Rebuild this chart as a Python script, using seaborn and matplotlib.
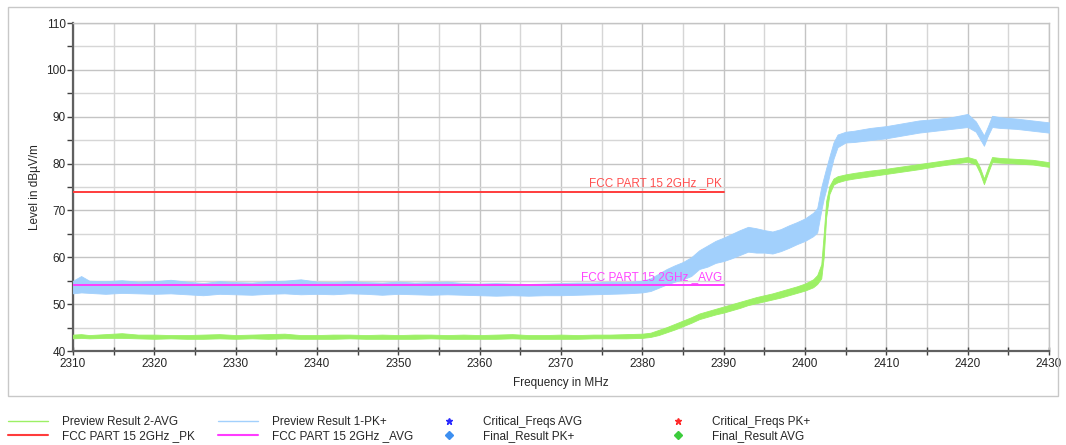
import pandas as pd
import seaborn as sns
import matplotlib.pyplot as plt
from matplotlib.lines import Line2D
from matplotlib.patches import Rectangle
from matplotlib.ticker import MultipleLocator

# frequency points (MHz) where the trace envelopes were read
freq = [2310, 2311, 2312, 2314, 2316, 2318, 2320, 2322, 2324, 2326, 2328, 2330,
        2332, 2334, 2336, 2338, 2340, 2342, 2344, 2346, 2348, 2350, 2352, 2354,
        2356, 2358, 2360, 2362, 2364, 2366, 2368, 2370, 2372, 2374, 2376, 2378,
        2380, 2381, 2382, 2383, 2384, 2385, 2386, 2387, 2388, 2389, 2390, 2391,
        2392, 2393, 2394, 2395, 2396, 2397, 2398, 2399, 2400, 2401, 2401.5, 2402,
        2402.3, 2402.6, 2403, 2403.5, 2404, 2405, 2406, 2408, 2410, 2412, 2414,
        2416, 2418, 2420, 2421, 2421.5, 2422, 2422.5, 2423, 2424, 2426, 2428, 2430]

# Preview Result 1-PK+ (lower / upper edge of the noisy trace), dBuV/m
pk_lo = [52.3, 52.5, 52.4, 52.2, 52.4, 52.3, 52.2, 52.3, 52.1, 51.9, 52.2, 52.1,
         52.0, 52.2, 52.3, 52.1, 52.2, 52.1, 52.3, 52.2, 52.0, 52.2, 52.1, 52.0,
         52.1, 52.0, 51.9, 51.8, 51.9, 51.8, 51.9, 51.9, 52.0, 52.1, 52.2, 52.3,
         52.5, 52.8, 53.5, 54.2, 54.8, 55.3, 56.0, 57.5, 58.0, 58.8, 59.2, 59.8,
         60.5, 61.2, 61.0, 61.0, 60.8, 61.3, 62.0, 62.8, 63.5, 64.5, 65.3, 70.0,
         72.5, 74.5, 77.5, 81.0, 83.5, 84.5, 84.6, 85.0, 85.4, 86.0, 86.6,
         87.0, 87.4, 87.8, 86.8, 85.3, 83.8, 86.0, 87.8, 87.6, 87.4, 87.0, 86.6]
pk_hi = [55.0, 56.0, 55.0, 54.9, 55.1, 54.8, 54.9, 55.2, 54.8, 54.5, 54.9, 54.7,
         54.6, 54.9, 55.0, 55.3, 54.8, 54.7, 54.9, 54.7, 54.6, 54.8, 54.6, 54.7,
         54.8, 54.5, 54.4, 54.5, 54.4, 54.3, 54.4, 54.5, 54.6, 54.6, 54.8, 54.7,
         55.0, 55.5, 56.5, 57.5, 58.3, 59.0, 60.0, 61.5, 62.5, 63.5, 64.2, 65.0,
         65.8, 66.5, 66.2, 65.8, 65.5, 66.0, 66.8, 67.5, 68.3, 69.5, 70.5, 75.0,
         77.0, 79.0, 81.5, 84.5, 86.2, 86.8, 87.0, 87.6, 88.0, 88.6, 89.2,
         89.5, 89.9, 90.6, 89.0, 87.5, 86.0, 88.0, 90.2, 89.9, 89.6, 89.2, 88.8]

# Preview Result 2-AVG
avg_lo = [42.7, 42.8, 42.7, 42.8, 42.8, 42.7, 42.6, 42.7, 42.6, 42.6, 42.7, 42.6,
          42.7, 42.6, 42.7, 42.6, 42.6, 42.6, 42.7, 42.6, 42.6, 42.6, 42.6, 42.7,
          42.6, 42.6, 42.6, 42.6, 42.7, 42.6, 42.6, 42.6, 42.6, 42.7, 42.7, 42.7,
          42.8, 43.0, 43.4, 44.0, 44.6, 45.3, 46.0, 46.8, 47.3, 47.8, 48.2, 48.7,
          49.2, 49.8, 50.2, 50.6, 51.0, 51.4, 51.9, 52.4, 52.9, 53.6, 54.3, 55.5,
          60.0, 68.5, 73.5, 75.5, 76.0, 76.5, 76.8, 77.3, 77.8, 78.3, 78.8,
          79.4, 79.9, 80.4, 79.8, 78.0, 75.6, 78.0, 80.3, 80.2, 80.0, 79.8, 79.3]
avg_hi = [43.5, 43.6, 43.4, 43.6, 43.8, 43.5, 43.5, 43.4, 43.4, 43.5, 43.6, 43.4,
          43.5, 43.6, 43.7, 43.4, 43.4, 43.5, 43.5, 43.4, 43.5, 43.4, 43.5, 43.5,
          43.4, 43.5, 43.4, 43.5, 43.6, 43.4, 43.4, 43.5, 43.4, 43.5, 43.5, 43.6,
          43.7, 43.9, 44.5, 45.1, 45.8, 46.5, 47.2, 48.0, 48.5, 49.0, 49.5, 50.0,
          50.5, 51.0, 51.5, 51.9, 52.3, 52.8, 53.3, 53.8, 54.4, 55.3, 56.2, 58.5,
          65.0, 72.0, 75.2, 76.8, 77.3, 77.7, 78.0, 78.5, 78.9, 79.4, 79.9,
          80.4, 80.9, 81.4, 80.9, 79.2, 76.8, 79.2, 81.4, 81.2, 81.0, 80.8, 80.3]

# limit lines
limit_freq = [2310, 2390]
limit_pk = 74
limit_avg = 54

trace = pd.DataFrame({"freq": freq, "pk_lo": pk_lo, "pk_hi": pk_hi,
                      "avg_lo": avg_lo, "avg_hi": avg_hi})
limits = pd.DataFrame({"freq": limit_freq * 2,
                       "level": [limit_pk] * 2 + [limit_avg] * 2,
                       "name": ["FCC PART 15 2GHz _PK"] * 2 + ["FCC PART 15 2GHz _AVG"] * 2})

sns.set_style("white")
plt.rcParams['font.family'] = ['Liberation Sans', 'DejaVu Sans']

W, H = 1066, 445
fs = 8.5
fig = plt.figure(figsize=(W / 100, H / 100), dpi=100)
ax = fig.add_axes([73 / W, 1 - 351 / H, (1049 - 73) / W, (351 - 23) / H])

c_pk = '#a2d0fc'
c_avg = '#9cf065'
c_red = '#ff3c3c'
c_mag = '#ff3cff'

ax.fill_between(trace["freq"], trace["pk_lo"], trace["pk_hi"], color=c_pk, lw=0.6, zorder=3)
ax.fill_between(trace["freq"], trace["avg_lo"], trace["avg_hi"], color=c_avg, lw=0.6, zorder=3)

sns.lineplot(data=limits, x="freq", y="level", hue="name",
             palette={"FCC PART 15 2GHz _PK": c_red, "FCC PART 15 2GHz _AVG": c_mag},
             lw=1.4, ax=ax, legend=False, zorder=4)
ax.text(limit_freq[1] - 0.2, limit_pk + 0.5, "FCC PART 15 2GHz _PK", color='#ff5050',
        fontsize=fs, ha='right', va='bottom', zorder=5)
ax.text(limit_freq[1] - 0.2, limit_avg + 0.5, "FCC PART 15 2GHz _AVG", color='#ff44ff',
        fontsize=fs, ha='right', va='bottom', zorder=5)

ax.set_xlim(2310, 2430)
ax.set_ylim(40, 110)
ax.xaxis.set_major_locator(MultipleLocator(10))
ax.xaxis.set_minor_locator(MultipleLocator(5))
ax.yaxis.set_major_locator(MultipleLocator(10))
ax.yaxis.set_minor_locator(MultipleLocator(5))
ax.grid(which='major', color='#c4c4c4', lw=1.0, zorder=0)
ax.grid(which='minor', color='#d6d6d6', lw=1.0, zorder=0)
ax.set_axisbelow(True)

for s in ['top', 'right']:
    ax.spines[s].set_color('#c4c4c4')
    ax.spines[s].set_linewidth(1.0)
for s in ['left', 'bottom']:
    ax.spines[s].set_color('#606060')
    ax.spines[s].set_linewidth(1.6)

ax.tick_params(axis='y', which='both', direction='out', length=4, width=1, color='#404040',
               labelsize=fs, pad=1, left=True)
ax.tick_params(axis='x', which='both', direction='inout', length=6, width=1, color='#404040',
               labelsize=fs, pad=2, bottom=True)

ax.set_xlabel("Frequency in MHz", fontsize=fs, labelpad=5)
ax.set_ylabel("Level in dBµV/m", fontsize=fs, labelpad=4)

# outer frame
fig.patches.append(Rectangle((8 / W, 1 - 396 / H), (1058 - 8) / W, (396 - 7) / H,
                             transform=fig.transFigure, fill=False, ec='#c8c8c8', lw=1))

# legend in four columns
cols = [
    ([Line2D([], [], color=c_avg, lw=1), Line2D([], [], color=c_red, lw=1.5)],
     ["Preview Result 2-AVG", "FCC PART 15 2GHz _PK"], 8),
    ([Line2D([], [], color=c_pk, lw=1), Line2D([], [], color=c_mag, lw=1.5)],
     ["Preview Result 1-PK+", "FCC PART 15 2GHz _AVG"], 218),
    ([Line2D([], [], color='#2a2aff', marker='*', ls='', ms=5),
      Line2D([], [], color='#3d8ff0', marker='D', ls='', ms=4)],
     ["Critical_Freqs AVG", "Final_Result PK+"], 429),
    ([Line2D([], [], color='#ff2a2a', marker='*', ls='', ms=5),
      Line2D([], [], color='#3ccc3c', marker='D', ls='', ms=4)],
     ["Critical_Freqs PK+", "Final_Result AVG"], 658),
]
for handles, labels, x0 in cols:
    fig.legend(handles, labels, loc='upper left', bbox_to_anchor=(x0 / W, 1 - 416 / H),
               frameon=False, fontsize=fs, handlelength=3.4, handletextpad=1.2,
               labelspacing=0.15, borderaxespad=0, borderpad=0)

fig.savefig("out.png", dpi=100)
